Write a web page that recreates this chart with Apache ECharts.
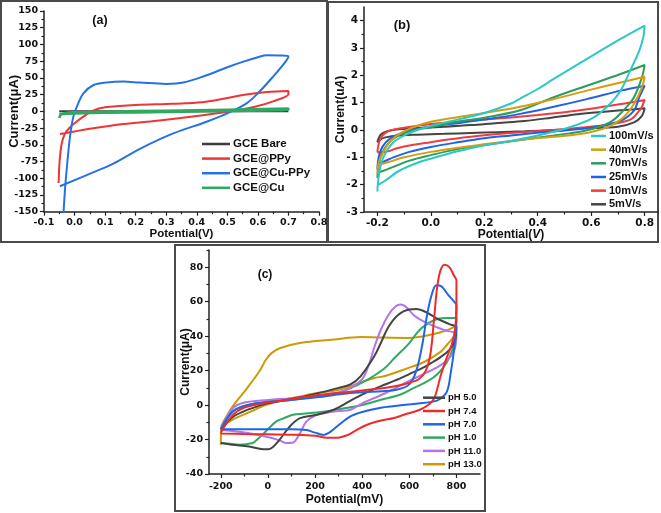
<!DOCTYPE html>
<html><head><meta charset="utf-8">
<script src="https://cdn.jsdelivr.net/npm/echarts@6/dist/echarts.min.js"></script>
<style>html,body{margin:0;padding:0;background:#fff}#c{width:661px;height:513px}</style>
</head><body><div id="c"></div>
<script>
// ---------- Panel (a) data: Potential (V) vs Current (uA) ----------
const aNames = ['GCE Bare','GCE@PPy','GCE@Cu-PPy','GCE@Cu'];
const aBare = [[-0.05,0],[0.7,0]];
const aPPy = [[-0.052,-107],[-0.049,-75],[-0.042,-48],[-0.031,-33],[-0.015,-24],[0.005,-16],[0.029,-8],[0.06,1],[0.1,6],[0.2,9.5],[0.3,11],[0.36,12],[0.43,14.5],[0.5,20],[0.55,24.5],[0.63,29],[0.7,30.5],[0.7,26],[0.65,15],[0.59,7],[0.5,-0.5],[0.38,-8],[0.27,-14],[0.16,-19],[0.05,-26],[0.0,-30],[-0.048,-34]];
const aCuPPy = [[-0.038,-165],[-0.031,-115],[-0.026,-88],[-0.015,-38],[-0.004,-8],[0.012,12],[0.029,27],[0.061,39],[0.105,43],[0.16,44.5],[0.214,43],[0.3,41],[0.356,43],[0.432,54],[0.5,66],[0.55,74],[0.6,81],[0.63,84],[0.67,83.5],[0.7,82.5],[0.69,74],[0.65,52],[0.6,27],[0.563,12],[0.5,-3],[0.432,-15.5],[0.323,-33],[0.214,-56],[0.127,-78],[0.051,-93],[-0.048,-112]];
const aCu = [[-0.05,-10],[-0.045,-5],[-0.03,-2.5],[0.0,-1.5],[0.1,-0.5],[0.3,1],[0.5,2.5],[0.7,4],[0.7,2.5],[0.5,0.5],[0.3,-1],[0.1,-2],[0.0,-3],[-0.05,-4]];
const aXLabels = [-0.1,0,0.1,0.2,0.3,0.4,0.5,0.6,0.7,0.8];
const aXMinor = [-0.05,0.05,0.15,0.25,0.35,0.45,0.55,0.65,0.75];
const aYLabels = [-150,-125,-100,-75,-50,-25,0,25,50,75,100,125,150];
const aYMinor = [-137.5,-112.5,-87.5,-62.5,-37.5,-12.5,12.5,37.5,62.5,87.5,112.5,137.5];

// ---------- Panel (b) data: Potential (V) vs Current (uA) ----------
const bNames = ['100mV/s','40mV/s','70mV/s','25mV/s','10mV/s','5mV/s'];
const b100 = [[-0.2,-2.25],[-0.195,-1.7],[-0.185,-1.2],[-0.17,-0.85],[-0.14,-0.45],[-0.1,-0.2],[-0.05,0.0],[0.0,0.15],[0.1,0.38],[0.2,0.62],[0.3,0.97],[0.334,1.15],[0.4,1.5],[0.46,1.87],[0.584,2.6],[0.71,3.33],[0.8,3.82],[0.795,3.4],[0.78,2.9],[0.746,2.17],[0.71,1.44],[0.67,0.95],[0.61,0.46],[0.52,0.1],[0.4,-0.2],[0.3,-0.4],[0.18,-0.6],[0.1,-0.78],[0.0,-1.05],[-0.05,-1.2],[-0.12,-1.5],[-0.16,-1.78],[-0.19,-1.97],[-0.2,-2.0]];
const b40 = [[-0.2,-1.6],[-0.195,-1.2],[-0.18,-0.85],[-0.15,-0.4],[-0.11,-0.1],[-0.06,0.12],[0.0,0.3],[0.1,0.47],[0.2,0.62],[0.334,0.85],[0.46,1.13],[0.584,1.44],[0.71,1.74],[0.8,1.95],[0.79,1.56],[0.76,0.95],[0.72,0.46],[0.66,0.1],[0.56,-0.15],[0.43,-0.27],[0.3,-0.4],[0.18,-0.55],[0.1,-0.65],[0.0,-0.8],[-0.1,-1.0],[-0.16,-1.18],[-0.2,-1.28]];
const b70 = [[-0.2,-1.75],[-0.195,-1.3],[-0.185,-0.9],[-0.16,-0.5],[-0.12,-0.2],[-0.06,0.0],[0.0,0.1],[0.1,0.3],[0.2,0.45],[0.334,0.72],[0.46,1.2],[0.584,1.62],[0.71,2.05],[0.8,2.38],[0.79,1.93],[0.76,1.2],[0.72,0.71],[0.67,0.28],[0.58,-0.02],[0.46,-0.2],[0.35,-0.35],[0.2,-0.55],[0.1,-0.7],[0.0,-0.92],[-0.08,-1.12],[-0.14,-1.35],[-0.18,-1.5],[-0.2,-1.55]];
const b25 = [[-0.2,-1.45],[-0.195,-1.0],[-0.18,-0.6],[-0.15,-0.3],[-0.1,-0.08],[-0.05,0.05],[0.0,0.13],[0.1,0.25],[0.2,0.38],[0.334,0.59],[0.46,0.85],[0.584,1.13],[0.71,1.44],[0.8,1.62],[0.78,1.2],[0.76,0.71],[0.71,0.34],[0.62,0.12],[0.52,0.0],[0.41,-0.09],[0.3,-0.2],[0.2,-0.3],[0.1,-0.45],[0.0,-0.62],[-0.08,-0.8],[-0.14,-1.0],[-0.18,-1.17],[-0.2,-1.2]];
const b10 = [[-0.2,-0.82],[-0.195,-0.5],[-0.185,-0.25],[-0.16,-0.05],[-0.1,0.08],[0.0,0.22],[0.1,0.3],[0.2,0.38],[0.3,0.46],[0.4,0.55],[0.5,0.65],[0.6,0.78],[0.7,0.93],[0.8,1.1],[0.79,0.85],[0.78,0.71],[0.75,0.4],[0.68,0.22],[0.58,0.1],[0.46,0.0],[0.35,-0.07],[0.25,-0.15],[0.15,-0.25],[0.05,-0.37],[0.0,-0.45],[-0.07,-0.55],[-0.13,-0.68],[-0.16,-0.78],[-0.2,-0.82]];
const b5 = [[-0.2,-0.45],[-0.195,-0.3],[-0.185,-0.15],[-0.165,-0.05],[-0.13,0.02],[-0.05,0.07],[0.05,0.12],[0.15,0.18],[0.25,0.26],[0.35,0.33],[0.45,0.45],[0.55,0.58],[0.65,0.67],[0.75,0.75],[0.8,0.8],[0.79,0.52],[0.76,0.28],[0.7,0.12],[0.58,0.06],[0.46,0.0],[0.35,-0.05],[0.25,-0.08],[0.15,-0.11],[0.05,-0.14],[-0.05,-0.17],[-0.12,-0.2],[-0.17,-0.27],[-0.19,-0.35],[-0.2,-0.45]];
const bXLabels = [-0.2,0,0.2,0.4,0.6,0.8];
const bXMinor = [-0.1,0.1,0.3,0.5,0.7];
const bYLabels = [-3,-2,-1,0,1,2,3,4];
const bYMinor = [-2.5,-1.5,-0.5,0.5,1.5,2.5,3.5];

// ---------- Panel (c) data: Potential (mV) vs Current (uA) ----------
const cNames = ['pH 5.0','pH 7.4','pH 7.0','pH 1.0','pH 11.0','pH 13.0'];
const c50 = [[-200,-14],[-150,-7],[-100,-3.5],[-50,-1],[0,1],[100,3.5],[200,6.5],[300,10],[350,12],[393,16.7],[450,28],[479,36],[510,45],[550,52],[600,55.5],[630,55.7],[670,54],[720,50],[770,47],[800,45],[795,38],[770,32],[734,28],[700,25],[663,22],[600,18],[535,14],[480,11],[421,7.5],[370,4],[330,1],[279,-2.7],[207,-5.6],[136,-7.6],[93,-12.4],[50,-20],[20,-24.5],[0,-25.7],[-30,-25.5],[-80,-24],[-150,-23],[-200,-22]];
const c74 = [[-200,-16],[-150,-6],[-100,-1.5],[0,1.5],[100,3.5],[200,5.5],[300,7],[400,8.5],[500,10],[560,11.5],[600,13],[640,15],[670,20],[690,30],[705,50],[718,68],[732,78],[750,81.5],[770,80],[790,75],[800,72.5],[800,60],[795,45],[780,35],[760,28],[734,17.5],[706,4],[680,0],[640,-3],[580,-5.5],[535,-7.5],[480,-9],[421,-11.4],[370,-15],[335,-17.5],[290,-19],[250,-19],[200,-17.8],[100,-17.2],[0,-17],[-100,-16.8],[-200,-16.5]];
const c70 = [[-200,-14],[-150,-3.7],[-100,-0.5],[-50,1],[0,1.8],[64,2.5],[207,4.5],[350,7],[479,8],[550,9],[600,12],[630,20],[655,35],[675,52],[695,64],[715,69.5],[735,69],[765,64],[790,60],[800,58],[798,45],[790,32],[775,18],[760,8],[730,3.5],[700,2],[606,0.5],[540,-0.5],[479,-1.5],[400,-4],[350,-6.6],[293,-12.4],[260,-16],[236,-17.3],[200,-16],[164,-14.5],[100,-14],[0,-14],[-100,-14],[-200,-14]];
const c10 = [[-200,-14],[-150,-4],[-100,-0.5],[0,2],[100,3],[200,5],[300,7],[350,9.8],[400,13],[450,17],[500,22],[535,27],[600,36],[650,44.5],[720,50],[760,50.5],[800,50.5],[797,42],[785,33],[760,25],[720,18],[680,14],[620,10],[560,6],[479,3.1],[400,0],[350,-1.2],[300,-2.5],[207,-4.3],[150,-5],[107,-5.6],[70,-7.5],[36,-9.5],[0,-14],[-21,-17],[-50,-20.5],[-64,-22],[-121,-23],[-160,-22.5],[-200,-22]];
const c110 = [[-200,-14],[-150,-2],[-100,1.5],[0,3],[100,4],[200,5.5],[300,7.5],[350,10],[400,15],[430,24],[450,33],[480,44],[510,52],[540,57],[563,58.3],[590,56.5],[620,52],[678,47.4],[749,43.5],[800,41],[797,35],[785,30],[760,26],[720,22],[660,18],[600,14],[500,7],[400,1],[350,-2.7],[300,-3.5],[250,-4.5],[207,-5.6],[164,-9.5],[136,-16.3],[107,-21.7],[79,-22],[50,-20.5],[21,-19.2],[-79,-16.3],[-150,-15],[-200,-14.4]];
const c130 = [[-200,-23],[-198,-13],[-190,-10],[-150,-0.8],[-93,9],[-36,19.6],[-10,26],[14,30],[50,33],[136,36],[279,38],[393,39.5],[479,39.2],[600,39],[680,40.5],[750,43],[800,46],[790,40],[760,35],[734,31],[663,25],[591,21.3],[500,17],[449,15.6],[400,13.5],[306,9],[207,7],[136,5],[50,2.5],[-7,0.2],[-60,-3],[-121,-6.6],[-170,-10],[-200,-12.4]];
const cXLabels = [-200,0,200,400,600,800];
const cXMinor = [-100,100,300,500,700];
const cYLabels = [-40,-20,0,20,40,60,80];
const cYMinor = [-30,-10,10,30,50,70,90];

// ---------- styling helpers ----------
const TICKFONT = {fontFamily:'DejaVu Sans', fontWeight:'bold', color:'#111'};
const NAMEFONT = {fontFamily:'Liberation Sans', fontWeight:'bold', color:'#111'};
const AXCOL = '#222';

function mainAxis(dim, grid, min, max, labels, opts) {
  return {
    type:'value', gridIndex:grid, min:min, max:max,
    position: dim === 'x' ? 'bottom' : 'left',
    axisLine:{show:true, onZero:false, lineStyle:{color:AXCOL, width:1.5}},
    axisTick:{show:true, inside:false, length:4, customValues:labels, lineStyle:{color:AXCOL, width:1.2}},
    axisLabel:{show:true, customValues:labels, margin:opts.margin, fontSize:opts.fontSize,
      formatter: opts.fmt, hideOverlap:false, ...TICKFONT},
    splitLine:{show:false},
    name: opts.name, nameLocation:'middle', nameGap: opts.nameGap, nameMoveOverlap:false,
    nameTextStyle:{fontSize:opts.nameSize, ...NAMEFONT, rich: opts.rich}
  };
}
function minorAxis(dim, grid, min, max, ticks) {
  return {
    type:'value', gridIndex:grid, min:min, max:max,
    position: dim === 'x' ? 'bottom' : 'left',
    axisLine:{show:false, onZero:false},
    axisTick:{show:true, length:2.5, customValues:ticks, lineStyle:{color:AXCOL, width:1.2}},
    axisLabel:{show:false}, splitLine:{show:false}
  };
}
const f1 = v => Number(v).toFixed(1);
const f0 = v => String(Math.round(Number(v)));

const xAxes = [
  mainAxis('x',0,-0.1,0.8,aXLabels,{margin:6,fontSize:9.5,fmt:f1,name:'Potential(V)',nameGap:16,nameSize:11.5}),
  mainAxis('x',1,-0.25,0.85,bXLabels,{margin:6,fontSize:10.5,fmt:f1,name:'Potential({i|V})',nameGap:17,nameSize:12,
    rich:{i:{fontStyle:'italic',fontSize:12,...NAMEFONT}}}),
  mainAxis('x',2,-250,900,cXLabels,{margin:8,fontSize:9.5,fmt:f0,name:'Potential(mV)',nameGap:20,nameSize:12}),
  minorAxis('x',0,-0.1,0.8,aXMinor),
  minorAxis('x',1,-0.25,0.85,bXMinor),
  minorAxis('x',2,-250,900,cXMinor)
];
const yAxes = [
  mainAxis('y',0,-150,150,aYLabels,{margin:6,fontSize:9.5,fmt:f0,name:'Current(\u03bcA)',nameGap:23,nameSize:13}),
  mainAxis('y',1,-3,4.5,bYLabels,{margin:6,fontSize:10.5,fmt:f0,name:'Current(u{i|A})',nameGap:17,nameSize:12,
    rich:{i:{fontStyle:'italic',fontSize:12,...NAMEFONT}}}),
  mainAxis('y',2,-40,90,cYLabels,{margin:6,fontSize:9.5,fmt:f0,name:'Current(\u03bcA)',nameGap:17,nameSize:12}),
  minorAxis('y',0,-150,150,aYMinor),
  minorAxis('y',1,-3,4.5,bYMinor),
  minorAxis('y',2,-40,90,cYMinor)
];

function line(name, data, color, grid, width) {
  return {type:'line', name:name, data:data, xAxisIndex:grid, yAxisIndex:grid,
    showSymbol:false, symbol:'none', smooth:0.35, clip:true,
    lineStyle:{color:color, width:width || 2}, itemStyle:{color:color}, z:2};
}

const series = [
  line('GCE Bare', aBare, '#3a3a3a', 0),
  line('GCE@PPy', aPPy, '#ef3434', 0),
  line('GCE@Cu-PPy', aCuPPy, '#2572e4', 0),
  line('GCE@Cu', aCu, '#2fa862', 0, 2.6),
  line('5mV/s', b5, '#444444', 1),
  line('10mV/s', b10, '#f03c3c', 1),
  line('25mV/s', b25, '#1f62e8', 1),
  line('70mV/s', b70, '#2e9c5c', 1),
  line('40mV/s', b40, '#d49d12', 1),
  line('100mV/s', b100, '#2cc8c8', 1),
  line('pH 13.0', c130, '#cc9a06', 2),
  line('pH 1.0', c10, '#2eaa60', 2),
  line('pH 11.0', c110, '#b574e8', 2),
  line('pH 5.0', c50, '#444444', 2),
  line('pH 7.0', c70, '#1e66e6', 2),
  line('pH 7.4', c74, '#f02a2a', 2)
];

function legend(names, left, top, iw, fs, lh, gap) {
  return {data:names, orient:'vertical', left:left, top:top, padding:0, itemWidth:iw, itemHeight:2.5,
    itemGap:gap, icon:'rect', selectedMode:false,
    textStyle:{fontFamily:'Liberation Sans', fontWeight:'bold', fontSize:fs, lineHeight:lh, color:'#111', padding:[0,0,0,-2]}};
}

const frame = (x,y,w,h) => ({type:'rect', shape:{x:x,y:y,width:w,height:h},
  style:{fill:'none', stroke:'#4a4a4a', lineWidth:2}, silent:true, z:0});
const tag = (t,x,y,fs) => ({type:'text', x:x, y:y, style:{text:t, align:'center', verticalAlign:'middle',
  fontSize:fs, fontWeight:'bold', fontFamily:'Liberation Sans', fill:'#111'}, z:10});

const option = {
  animation:false,
  backgroundColor:'#ffffff',
  grid:[
    {left:44, top:11, width:275, height:200.7},
    {left:364, top:7, width:294, height:205},
    {left:209, top:250, width:271, height:224}
  ],
  xAxis:xAxes,
  yAxis:yAxes,
  legend:[
    legend(aNames, 202, 137, 28, 11.5, 14, 0.6),
    legend(bNames, 591, 129.5, 15, 11, 13, 0.66),
    legend(cNames, 423, 391.7, 22, 9.5, 12, 1.3)
  ],
  series:series,
  graphic:[
    frame(1,1,326,241),
    frame(328,2,330,240),
    frame(175,245,310,266),
    tag('(a)',100,21,12.5),
    tag('(b)',402,25,13),
    tag('(c)',265,275,12)
  ]
};

const chart = echarts.init(document.getElementById('c'), null, {renderer:'canvas'});
chart.setOption(option);
</script></body></html>
